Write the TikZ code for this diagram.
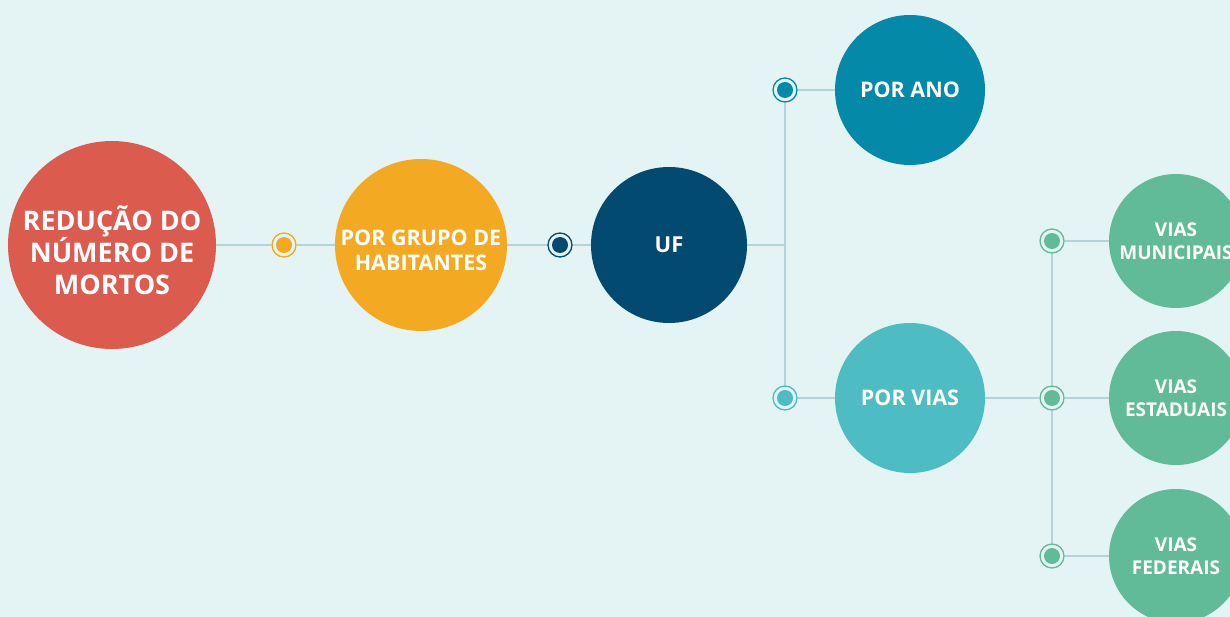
\documentclass[tikz,border=0pt]{standalone}
\usepackage{fontspec}
\setmainfont{Open Sans}
\definecolor{bg}{HTML}{E4F3F3}
\definecolor{wire}{HTML}{B3D2DC}
\definecolor{red}{HTML}{DC5B4F}
\definecolor{orange}{HTML}{F3AA22}
\definecolor{navy}{HTML}{024A70}
\definecolor{teal}{HTML}{0589A8}
\definecolor{aqua}{HTML}{4DBCC3}
\definecolor{green}{HTML}{62BB98}
\begin{document}
\begin{tikzpicture}[x=1pt,y=-1pt,font=\bfseries,
  ball/.style={circle,fill=#1,inner sep=0pt,text=white,align=center},
  ring/.style={circle,draw=#1,line width=1.3pt,fill=bg,minimum size=24pt,inner sep=0pt,
    path picture={\fill[#1] (path picture bounding box.center) circle (8pt);}},
  wire/.style={draw=wire,line width=1.5pt}]

\clip (0,0) rectangle (1230,617);
\fill[bg] (0,0) rectangle (1230,617);

% main chain
\node[ball=red,minimum size=208pt,font=\fontsize{27}{32}\selectfont\bfseries] (mortos) at (112,245) {\rule{0pt}{35pt}REDUÇÃO DO\\NÚMERO DE\\MORTOS};
\node[ring=orange] (d1) at (284,245) {};
\node[ball=orange,minimum size=172pt,font=\fontsize{21.5}{25}\selectfont\bfseries] (grupo) at (421,245) {\rule{0pt}{26pt}POR GRUPO DE\\HABITANTES};
\node[ring=navy] (d2) at (560,245) {};
\node[ball=navy,minimum size=156pt,font=\fontsize{22}{25}\selectfont\bfseries] (uf) at (669,245) {UF};

% second level
\node[ring=teal] (dano) at (785,90) {};
\node[ball=teal,minimum size=150pt,font=\fontsize{21.5}{25}\selectfont\bfseries] (ano) at (910,90) {POR ANO};
\node[ring=aqua] (dvias) at (785,398) {};
\node[ball=aqua,minimum size=150pt,font=\fontsize{21.5}{25}\selectfont\bfseries] (vias) at (910,398) {POR VIAS};

% third level
\node[ring=green] (dmun) at (1052,241) {};
\node[ball=green,minimum size=134pt,font=\fontsize{19}{23}\selectfont\bfseries] (mun) at (1176,241) {VIAS\\MUNICIPAIS};
\node[ring=green] (dest) at (1052,398) {};
\node[ball=green,minimum size=134pt,font=\fontsize{19}{23}\selectfont\bfseries] (est) at (1176,398) {VIAS\\ESTADUAIS};
\node[ring=green] (dfed) at (1052,556) {};
\node[ball=green,minimum size=134pt,font=\fontsize{19}{23}\selectfont\bfseries] (fed) at (1176,556) {VIAS\\FEDERAIS};

\coordinate (split) at (785,245);

\draw[wire] (mortos) -- (d1) -- (grupo);
\draw[wire] (grupo) -- (d2) -- (uf);
\draw[wire] (uf) -- (split);
\draw[wire] (dano) -- (dvias);
\draw[wire] (dano) -- (ano);
\draw[wire] (dvias) -- (vias);
\draw[wire] (vias) -- (dest) -- (est);
\draw[wire] (dmun) -- (dest) -- (dfed);
\draw[wire] (dmun) -- (mun);
\draw[wire] (dfed) -- (fed);

\end{tikzpicture}
\end{document}
